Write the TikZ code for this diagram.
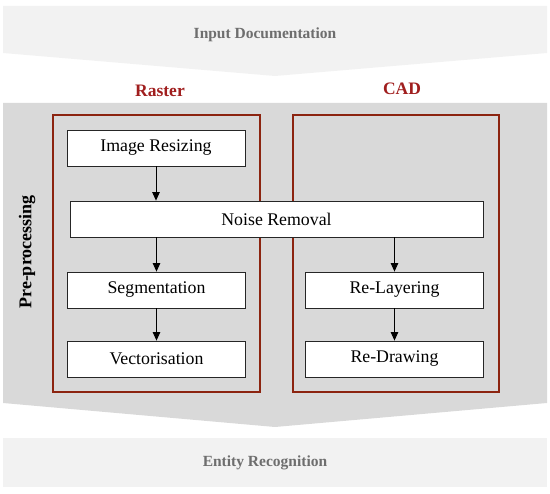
\documentclass[tikz,border=0pt]{standalone}
\usepackage{fontspec}
\setmainfont{Liberation Serif}
\usepackage{tikz}
\usetikzlibrary{arrows.meta, positioning, calc}

\definecolor{bandlight}{RGB}{242,242,242}
\definecolor{banddark}{RGB}{217,217,217}
\definecolor{bandtext}{RGB}{110,110,110}
\definecolor{framered}{RGB}{140,36,16}
\definecolor{labelred}{RGB}{160,30,30}

\begin{document}
\begin{tikzpicture}[x=1pt, y=-1pt,
        stepbox/.style={draw=black!85, fill=white, line width=0.8pt, minimum width=178pt, minimum height=36pt, inner sep=0pt, font=\fontsize{17.8}{20}\selectfont},
        groupframe/.style={draw=framered, line width=2.6pt},
        grouplabel/.style={text=labelred, font=\fontsize{17.5}{20}\selectfont\bfseries},
        bandlabel/.style={text=bandtext, font=\fontsize{15.5}{19}\selectfont\bfseries},
        flow/.style={-{Triangle[length=8.5pt, width=7.5pt]}, line width=0.8pt}]
        \useasboundingbox (0,0) rectangle (550,494);

        % bands
        \fill[bandlight] (3,6) -- (547,6) -- (547,53) -- (275,76) -- (3,53) -- cycle;
        \fill[banddark] (3,103) -- (547,103) -- (547,403) -- (275,427) -- (3,403) -- cycle;
        \fill[bandlight] (3,438) rectangle (547,487);
        \node[bandlabel] (input) at (265,35) {Input Documentation};
        \node[bandlabel] (entity) at (265,463) {Entity Recognition};
        \node[rotate=90, font=\fontsize{18}{20}\selectfont\bfseries] (pre) at (27,252) {Pre-processing};

        % groups
        \draw[groupframe] (53,115) rectangle (260,392);
        \draw[groupframe] (293,115) rectangle (499,392);
        \node[grouplabel] (raster) at (160,91) {Raster};
        \node[grouplabel] (cad) at (402,89) {CAD};

        % steps
        \node[stepbox] (resize) at (156,148) {Image Resizing};
        \node[stepbox, minimum width=413pt, minimum height=36pt] (noise) at (276.5,219) {Noise Removal};
        \node[stepbox] (seg) at (156.5,290) {Segmentation};
        \node[stepbox] (vect) at (156.5,359) {Vectorisation};
        \node[stepbox] (layer) at (394.5,290) {Re-Layering};
        \node[stepbox] (redraw) at (394.5,359) {Re-Drawing};

        \draw[flow] (resize) -- (resize |- noise.north);
        \draw[flow] (seg |- noise.south) -- (seg);
        \draw[flow] (layer |- noise.south) -- (layer);
        \draw[flow] (seg) -- (vect);
        \draw[flow] (layer) -- (redraw);
    \end{tikzpicture}
\end{document}
